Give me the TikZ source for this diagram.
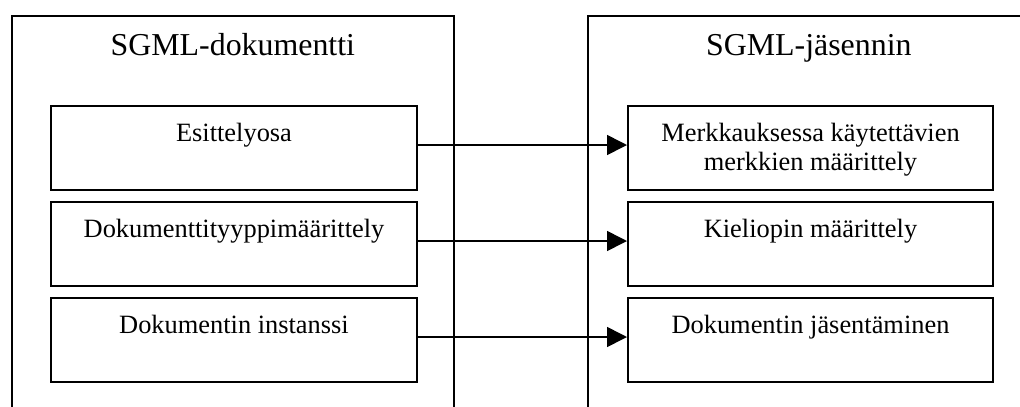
\documentclass[tikz,border=0pt]{standalone}
\usepackage{fontspec}
\setmainfont{Liberation Serif}
\usetikzlibrary{arrows.meta}

\tikzset{
  frame/.style={draw=black, line width=1.7bp, inner sep=0pt,
    minimum width=442bp, minimum height=430bp, anchor=north west},
  part/.style={draw=black, line width=2bp, inner sep=0pt,
    minimum height=84bp, anchor=north west},
  title/.style={anchor=base, inner sep=0pt,
    font=\fontsize{32}{38}\selectfont},
  caption/.style={anchor=base, inner sep=0pt,
    font=\fontsize{26.5}{30}\selectfont},
  link/.style={line width=1.6bp, -{Triangle[length=20bp, width=20bp]}},
}
\newcommand{\twolines}[2]{{\setlength{\tabcolsep}{0pt}\renewcommand{\arraystretch}{1}%
  \begin{tabular}[t]{c}#1\\#2\end{tabular}}}

\begin{document}
\begin{tikzpicture}[x=1bp, y=-1bp]
  \clip (0,0) rectangle (1020,406);

  % the two frames, open towards the bottom (and the right one to the right)
  \node[frame] (doc) at (11,15) {};
  \node[frame] (parser) at (587,15) {};
  \node[title] (doct) at ([yshift=-40bp]doc.north) {SGML-dokumentti};
  \node[title] (parsert) at ([yshift=-40bp]parser.north) {SGML-jäsennin};

  % parts of the document
  \node[part, minimum width=366bp] (l1) at (50,105) {};
  \node[part, minimum width=366bp] (l2) at (50,201) {};
  \node[part, minimum width=366bp] (l3) at (50,297) {};
  \node[caption] (l1t) at ([yshift=-36bp]l1.north) {Esittelyosa};
  \node[caption] (l2t) at ([yshift=-36bp]l2.north) {Dokumenttityyppimäärittely};
  \node[caption] (l3t) at ([yshift=-36bp]l3.north) {Dokumentin instanssi};

  % tasks of the parser
  \node[part, minimum width=365bp] (r1) at (627,105) {};
  \node[part, minimum width=365bp] (r2) at (627,201) {};
  \node[part, minimum width=365bp] (r3) at (627,297) {};
  \node[caption] (r1t) at ([yshift=-36bp]r1.north)
    {\twolines{Merkkauksessa käytettävien}{merkkien määrittely}};
  \node[caption] (r2t) at ([yshift=-36bp]r2.north) {Kieliopin määrittely};
  \node[caption] (r3t) at ([yshift=-36bp]r3.north) {Dokumentin jäsentäminen};

  % correspondences
  \draw[link] ([yshift=3bp]l1.east) -- ([yshift=3bp]r1.west);
  \draw[link] ([yshift=3bp]l2.east) -- ([yshift=3bp]r2.west);
  \draw[link] ([yshift=3bp]l3.east) -- ([yshift=3bp]r3.west);
\end{tikzpicture}
\end{document}
